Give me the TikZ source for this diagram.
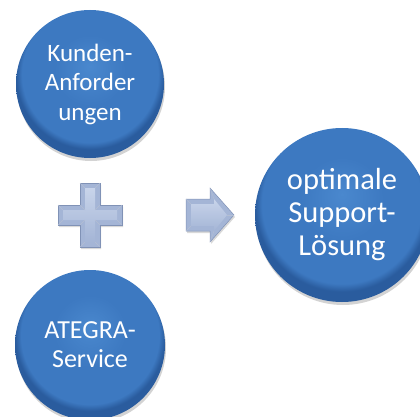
\documentclass[tikz,border=0pt]{standalone}
\usepackage{fontspec}
\setmainfont{Carlito}
\usetikzlibrary{shadows}

\definecolor{bubbleLight}{RGB}{74,136,206}
\definecolor{bubbleMid}{RGB}{61,121,193}
\definecolor{bubbleDark}{RGB}{42,92,158}
\definecolor{signLight}{RGB}{200,212,234}
\definecolor{signMid}{RGB}{164,181,214}
\definecolor{signDark}{RGB}{128,146,182}

\pgfdeclareradialshading{bubble}{\pgfpoint{0bp}{6bp}}{color(0bp)=(bubbleLight); color(12bp)=(bubbleMid); color(23bp)=(bubbleMid); color(25bp)=(bubbleDark); color(50bp)=(bubbleDark)}

\begin{document}
\begin{tikzpicture}[x=1pt, y=-1pt]
		\tikzstyle{Bubble} = [circle, shading=bubble, text=white, align=center, inner sep=0pt, drop shadow={opacity=0.35, shadow xshift=1pt, shadow yshift=-3pt}]
		\tikzstyle{Sign} = [fill=signMid, draw=signDark, line width=0.5pt, drop shadow={opacity=0.3, shadow xshift=1pt, shadow yshift=-2pt}]
		\tikzstyle{Facet} = [top color=signLight, bottom color=signMid, draw=none]
		\tikzstyle{Edge} = [draw=signDark!60, line width=0.4pt]
		
		%\draw[step=10, gray, very thin] (0,0) grid (420,417);
		\useasboundingbox (0,0) rectangle (420,417);
		
		\node (kunden) [Bubble, minimum size=148pt, font=\fontsize{25}{29.5}\selectfont] at (90,84) {Kunden-\\Anforder\\ungen};
		\node (ategra) [Bubble, minimum size=150pt, font=\fontsize{26}{29}\selectfont] at (90,345) {ATEGRA-\\Service};
		\node (loesung) [Bubble, minimum size=174pt, font=\fontsize{30.5}{33}\selectfont] at (342,215) {optimale\\Support-\\Lösung};
		
		% plus sign
		\begin{scope}[shift={(90,215)}]
			\draw [Sign] (-10,-32) -- (10,-32) -- (10,-10) -- (32,-10) -- (32,10) -- (10,10) -- (10,32) -- (-10,32) -- (-10,10) -- (-32,10) -- (-32,-10) -- (-10,-10) -- cycle;
			\shade [Facet] (-5,-27) -- (5,-27) -- (5,-5) -- (27,-5) -- (27,5) -- (5,5) -- (5,27) -- (-5,27) -- (-5,5) -- (-27,5) -- (-27,-5) -- (-5,-5) -- cycle;
			\foreach \sx/\sy in {1/1, 1/-1, -1/1, -1/-1} {
				\draw [Edge] (10*\sx,32*\sy) -- (5*\sx,27*\sy);
				\draw [Edge] (32*\sx,10*\sy) -- (27*\sx,5*\sy);
				\draw [Edge] (10*\sx,10*\sy) -- (5*\sx,5*\sy);
			}
		\end{scope}
		
		% arrow
		\begin{scope}[shift={(186,215)}]
			\draw [Sign] (0,-16) -- (24,-16) -- (24,-27) -- (48,0) -- (24,27) -- (24,16) -- (0,16) -- cycle;
			\shade [Facet] (5,-11) -- (28,-11) -- (28,-16) -- (41,0) -- (28,16) -- (28,11) -- (5,11) -- cycle;
			\draw [Edge] (0,-16) -- (5,-11);
			\draw [Edge] (0,16) -- (5,11);
			\draw [Edge] (24,-27) -- (28,-16);
			\draw [Edge] (24,27) -- (28,16);
			\draw [Edge] (48,0) -- (41,0);
		\end{scope}
		\end{tikzpicture}
\end{document}
